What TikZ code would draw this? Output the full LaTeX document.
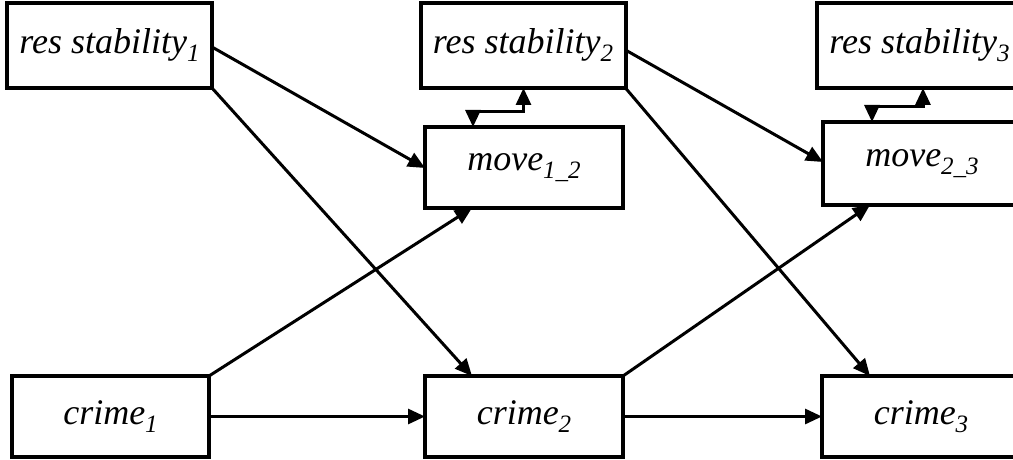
\documentclass[tikz,border=0pt]{standalone}
\usepackage{fontspec}
\newfontfamily\tnr{Liberation Serif}
\usetikzlibrary{arrows.meta,calc}
\newcommand{\sbs}[1]{\raisebox{-8pt}{\fontsize{25}{25}\selectfont #1}}
\tikzset{
  box/.style={draw, line width=4pt, inner sep=0pt, outer sep=0pt, font=\fontsize{36}{40}\selectfont\tnr\itshape, anchor=center},
  conn/.style={line width=3pt, -{Triangle[length=17pt,width=15pt]}},
  conn2/.style={line width=3pt, {Triangle[length=17pt,width=15pt]}-{Triangle[length=17pt,width=15pt]}}
}
\begin{document}
\begin{tikzpicture}[x=1pt,y=-1pt]
\useasboundingbox (0,0) rectangle (1013,460);
\clip (0,0) rectangle (1013,460);
\node[box, minimum width=205pt, minimum height=85pt] (s1) at (109.5,45.5) {res stability\sbs{1}};
\node[box, minimum width=205pt, minimum height=85pt] (s2) at (523,45.5) {res stability\sbs{2}};
\node[box, minimum width=205pt, minimum height=85pt] (s3) at (919.5,45.5) {res stability\sbs{3}};
\node[box, minimum width=198pt, minimum height=81pt] (m12) at (524,167.5) {move\sbs{1\_2}};
\node[box, minimum width=198pt, minimum height=83pt] (m23) at (922,163.5) {move\sbs{2\_3}};
\node[box, minimum width=197pt, minimum height=81pt] (c1) at (110.5,416.5) {crime\sbs{1}};
\node[box, minimum width=198pt, minimum height=81pt] (c2) at (524,416.5) {crime\sbs{2}};
\node[box, minimum width=198pt, minimum height=81pt] (c3) at (921,416.5) {crime\sbs{3}};
% straight connectors
\draw[conn] ($(s1.north east)+(0,44)$) -- ($(m12.north west)+(0,41)$);
\draw[conn] (s1.south east) -- ($(c2.north west)+(47,0)$);
\draw[conn] (c1.north east) -- ($(m12.south west)+(47,0)$);
\draw[conn] (c1.east) -- (c2.west);
\draw[conn] ($(s2.north east)+(0,47)$) -- ($(m23.north west)+(0,40)$);
\draw[conn] (s2.south east) -- ($(c3.north west)+(48,0)$);
\draw[conn] (c2.north east) -- ($(m23.south west)+(47,0)$);
\draw[conn] (c2.east) -- (c3.west);
% elbow connectors
\coordinate (e1) at ($(m12.north west)+(48,-15)$);
\coordinate (e2) at ($(s2.south west)+(103,0)$);
\draw[conn2] (m12.north west -| e1) -- (e1) -- (e1 -| e2) -- (s2.south west -| e2);
\coordinate (e3) at ($(m23.north west)+(49,-15)$);
\coordinate (e4) at ($(s3.south west)+(106,0)$);
\draw[conn2] (m23.north west -| e3) -- (e3) -- (e3 -| e4) -- (s3.south west -| e4);
\end{tikzpicture}
\end{document}
